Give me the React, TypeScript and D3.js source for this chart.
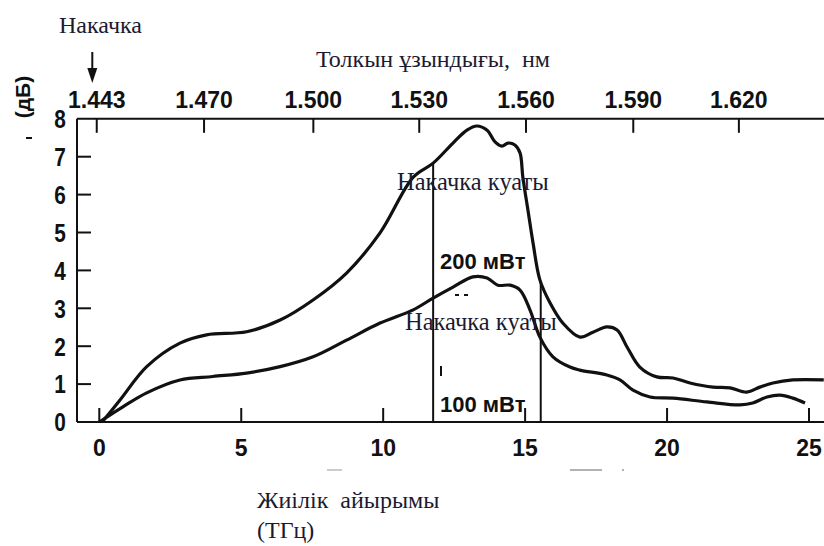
import React from 'react';
import * as d3 from 'd3';

// Frequency difference axis (THz) and gain (dB)
const freqTicks = [0, 5, 10, 15, 20, 25];
const gainTicks = [0, 1, 2, 3, 4, 5, 6, 7, 8];
const wavelengthLabels = ['1.443', '1.470', '1.500', '1.530', '1.560', '1.590', '1.620'];
// positions of wavelength ticks on the frequency axis (THz)
const wavelengthTickFreq = [-0.09, 3.69, 7.54, 11.27, 15.03, 18.81, 22.53];

// 200 mW pump curve
const p200Freq = [0.1, 0.73, 1.67, 2.84, 3.78, 5.19, 6.37, 7.53, 8.71, 9.89, 11.06, 11.76, 12.46, 12.95, 13.3, 13.66, 13.94, 14.18, 14.4, 14.64, 14.82, 14.92, 15.1, 15.28, 15.52, 15.88, 16.33, 16.93, 17.39, 17.88, 18.24, 18.59, 19.04, 19.64, 20.21, 20.81, 21.62, 22.22, 22.81, 23.27, 23.73, 24.43, 25.52];
const p200Gain = [0, 0.58, 1.46, 2.08, 2.3, 2.38, 2.69, 3.22, 3.93, 4.99, 6.46, 6.83, 7.36, 7.7, 7.81, 7.7, 7.39, 7.28, 7.36, 7.31, 7.1, 6.46, 5.59, 4.72, 3.75, 3.14, 2.61, 2.24, 2.37, 2.51, 2.43, 1.98, 1.45, 1.19, 1.16, 1.03, 0.92, 0.9, 0.79, 0.92, 1.03, 1.11, 1.11];

// 100 mW pump curve
const p100Freq = [0, 0.83, 1.67, 2.84, 4.0, 5.19, 6.37, 7.53, 8.71, 9.89, 11.06, 11.76, 12.46, 13.16, 13.66, 14.04, 14.47, 14.82, 15.17, 15.52, 15.98, 16.58, 16.93, 17.88, 18.34, 18.8, 19.4, 20.21, 21.4, 22.57, 23.02, 23.52, 23.98, 24.43, 24.86];
const p100Gain = [0, 0.4, 0.77, 1.11, 1.2, 1.29, 1.46, 1.72, 2.16, 2.61, 2.96, 3.27, 3.56, 3.83, 3.8, 3.61, 3.61, 3.48, 2.96, 2.24, 1.72, 1.45, 1.37, 1.24, 1.11, 0.84, 0.66, 0.63, 0.53, 0.45, 0.5, 0.66, 0.71, 0.63, 0.5];

// vertical marker lines (THz)
const markerFreqs = [11.76, 15.55];

const W = 824;
const H = 546;

function interp(xs: number[], ys: number[], x: number) {
  const i = d3.bisectLeft(xs, x);
  if (i <= 0) return ys[0];
  if (i >= xs.length) return ys[ys.length - 1];
  const t = (x - xs[i - 1]) / (xs[i] - xs[i - 1]);
  return ys[i - 1] + t * (ys[i] - ys[i - 1]);
}

export default function App() {
  const x = d3.scaleLinear().domain([0, 25]).range([99.3, 809]);
  const y = d3.scaleLinear().domain([0, 8]).range([422, 118.8]);
  const frameLeft = 77;
  const frameTop = y(8);
  const frameBottom = y(0);

  const line = d3
    .line<[number, number]>()
    .x((d) => x(d[0]))
    .y((d) => y(d[1]))
    .curve(d3.curveCatmullRom.alpha(0.5));

  const d200 = line(p200Freq.map((f, i) => [f, p200Gain[i]] as [number, number])) || '';
  const d100 = line(p100Freq.map((f, i) => [f, p100Gain[i]] as [number, number])) || '';

  const sans = "'Liberation Sans', Arial, sans-serif";
  const serif = "'Liberation Serif', 'Times New Roman', serif";
  const ink = '#111';
  const noteInk = '#1c1a30';

  return (
    <svg
      width={W}
      height={H}
      style={{ position: 'absolute', left: 0, top: 0, background: '#fff' }}
    >
      <rect x={0} y={0} width={W} height={H} fill="#fff" />
      {/* frame */}
      <line x1={frameLeft} x2={W} y1={frameTop} y2={frameTop} stroke={ink} strokeWidth={2} />
      <line x1={frameLeft} x2={W} y1={frameBottom} y2={frameBottom} stroke={ink} strokeWidth={2} />
      <line x1={frameLeft} x2={frameLeft} y1={frameTop} y2={frameBottom} stroke={ink} strokeWidth={2} />

      {/* left ticks and labels */}
      {gainTicks.map((t) => (
        <g key={'g' + t}>
          {t > 0 && t < 8 && (
            <line x1={frameLeft} x2={frameLeft + 14} y1={y(t)} y2={y(t)} stroke={ink} strokeWidth={2} />
          )}
          <text
            transform={`translate(60,${y(t)}) scale(0.8,1)`}
            dy="0.36em"
            textAnchor="middle"
            fontFamily={sans}
            fontWeight="bold"
            fontSize={26}
            fill={ink}
          >
            {t}
          </text>
        </g>
      ))}

      {/* bottom ticks and labels */}
      {freqTicks.map((t) => (
        <g key={'f' + t}>
          <line x1={x(t)} x2={x(t)} y1={frameBottom} y2={frameBottom - 14} stroke={ink} strokeWidth={2} />
          <text
            x={x(t)}
            y={456}
            textAnchor="middle"
            fontFamily={sans}
            fontWeight="bold"
            fontSize={23}
            fill={ink}
          >
            {t}
          </text>
        </g>
      ))}

      {/* top ticks and labels */}
      {wavelengthTickFreq.map((f, i) => (
        <g key={'w' + i}>
          <line x1={x(f)} x2={x(f)} y1={frameTop} y2={frameTop + 14} stroke={ink} strokeWidth={2} />
          <text
            x={x(f)}
            y={108}
            textAnchor="middle"
            fontFamily={sans}
            fontWeight="bold"
            fontSize={23}
            fill={ink}
          >
            {wavelengthLabels[i]}
          </text>
        </g>
      ))}

      {/* y axis label fragment */}
      <text
        transform="translate(30,97) rotate(-90)"
        textAnchor="middle"
        fontFamily={sans}
        fontWeight="bold"
        fontSize={21}
        fill={ink}
      >
        (дБ)
      </text>
      <line x1={26} x2={32} y1={138} y2={138} stroke={ink} strokeWidth={2} />

      {/* vertical marker lines */}
      {markerFreqs.map((f) => (
        <line
          key={'m' + f}
          x1={x(f)}
          x2={x(f)}
          y1={y(interp(p200Freq, p200Gain, f))}
          y2={frameBottom}
          stroke={ink}
          strokeWidth={2}
        />
      ))}

      {/* curves */}
      <path d={d200} fill="none" stroke={ink} strokeWidth={3.2} strokeLinejoin="round" />
      <path d={d100} fill="none" stroke={ink} strokeWidth={3.2} strokeLinejoin="round" />

      {/* pump arrow */}
      <line x1={x(0) - 7} x2={x(0) - 7} y1={52} y2={72} stroke={ink} strokeWidth={2} />
      <path
        d={`M${x(0) - 12},${68} L${x(0) - 2},${68} L${x(0) - 7},${83} Z`}
        fill={ink}
      />

      {/* annotations */}
      <text x={59} y={33} fontFamily={serif} fontSize={24} fill={noteInk}>
        Накачка
      </text>
      <text x={316} y={67} fontFamily={serif} fontSize={24} fill={noteInk} xmlSpace="preserve">
        Толкын ұзындығы,  нм
      </text>
      <text x={397} y={190} fontFamily={serif} fontSize={24.5} fill={noteInk}>
        Накачка куаты
      </text>
      <text x={405} y={330} fontFamily={serif} fontSize={24.5} fill={noteInk}>
        Накачка куаты
      </text>
      <text x={440} y={269} fontFamily={sans} fontWeight="bold" fontSize={22} fill={ink}>
        200 мВт
      </text>
      <text x={440} y={412} fontFamily={sans} fontWeight="bold" fontSize={22} fill={ink}>
        100 мВт
      </text>
      <line x1={455} x2={459} y1={295} y2={295} stroke={ink} strokeWidth={2} />
      <line x1={464} x2={468} y1={295} y2={295} stroke={ink} strokeWidth={2} />
      <line x1={441} x2={441} y1={366} y2={376} stroke={ink} strokeWidth={2} />
      {/* faint scan specks */}
      <line x1={327} x2={342} y1={470} y2={470} stroke="#bbb" strokeWidth={1.5} />
      <line x1={570} x2={602} y1={470} y2={470} stroke="#999" strokeWidth={1.5} />
      <line x1={622} x2={624} y1={470} y2={470} stroke="#999" strokeWidth={1.5} />
      <text x={257} y={508} fontFamily={serif} fontSize={24} fill={noteInk} xmlSpace="preserve">
        Жиілік  айырымы
      </text>
      <text x={257} y={538} fontFamily={serif} fontSize={24} fill={noteInk}>
        (ТГц)
      </text>
    </svg>
  );
}
